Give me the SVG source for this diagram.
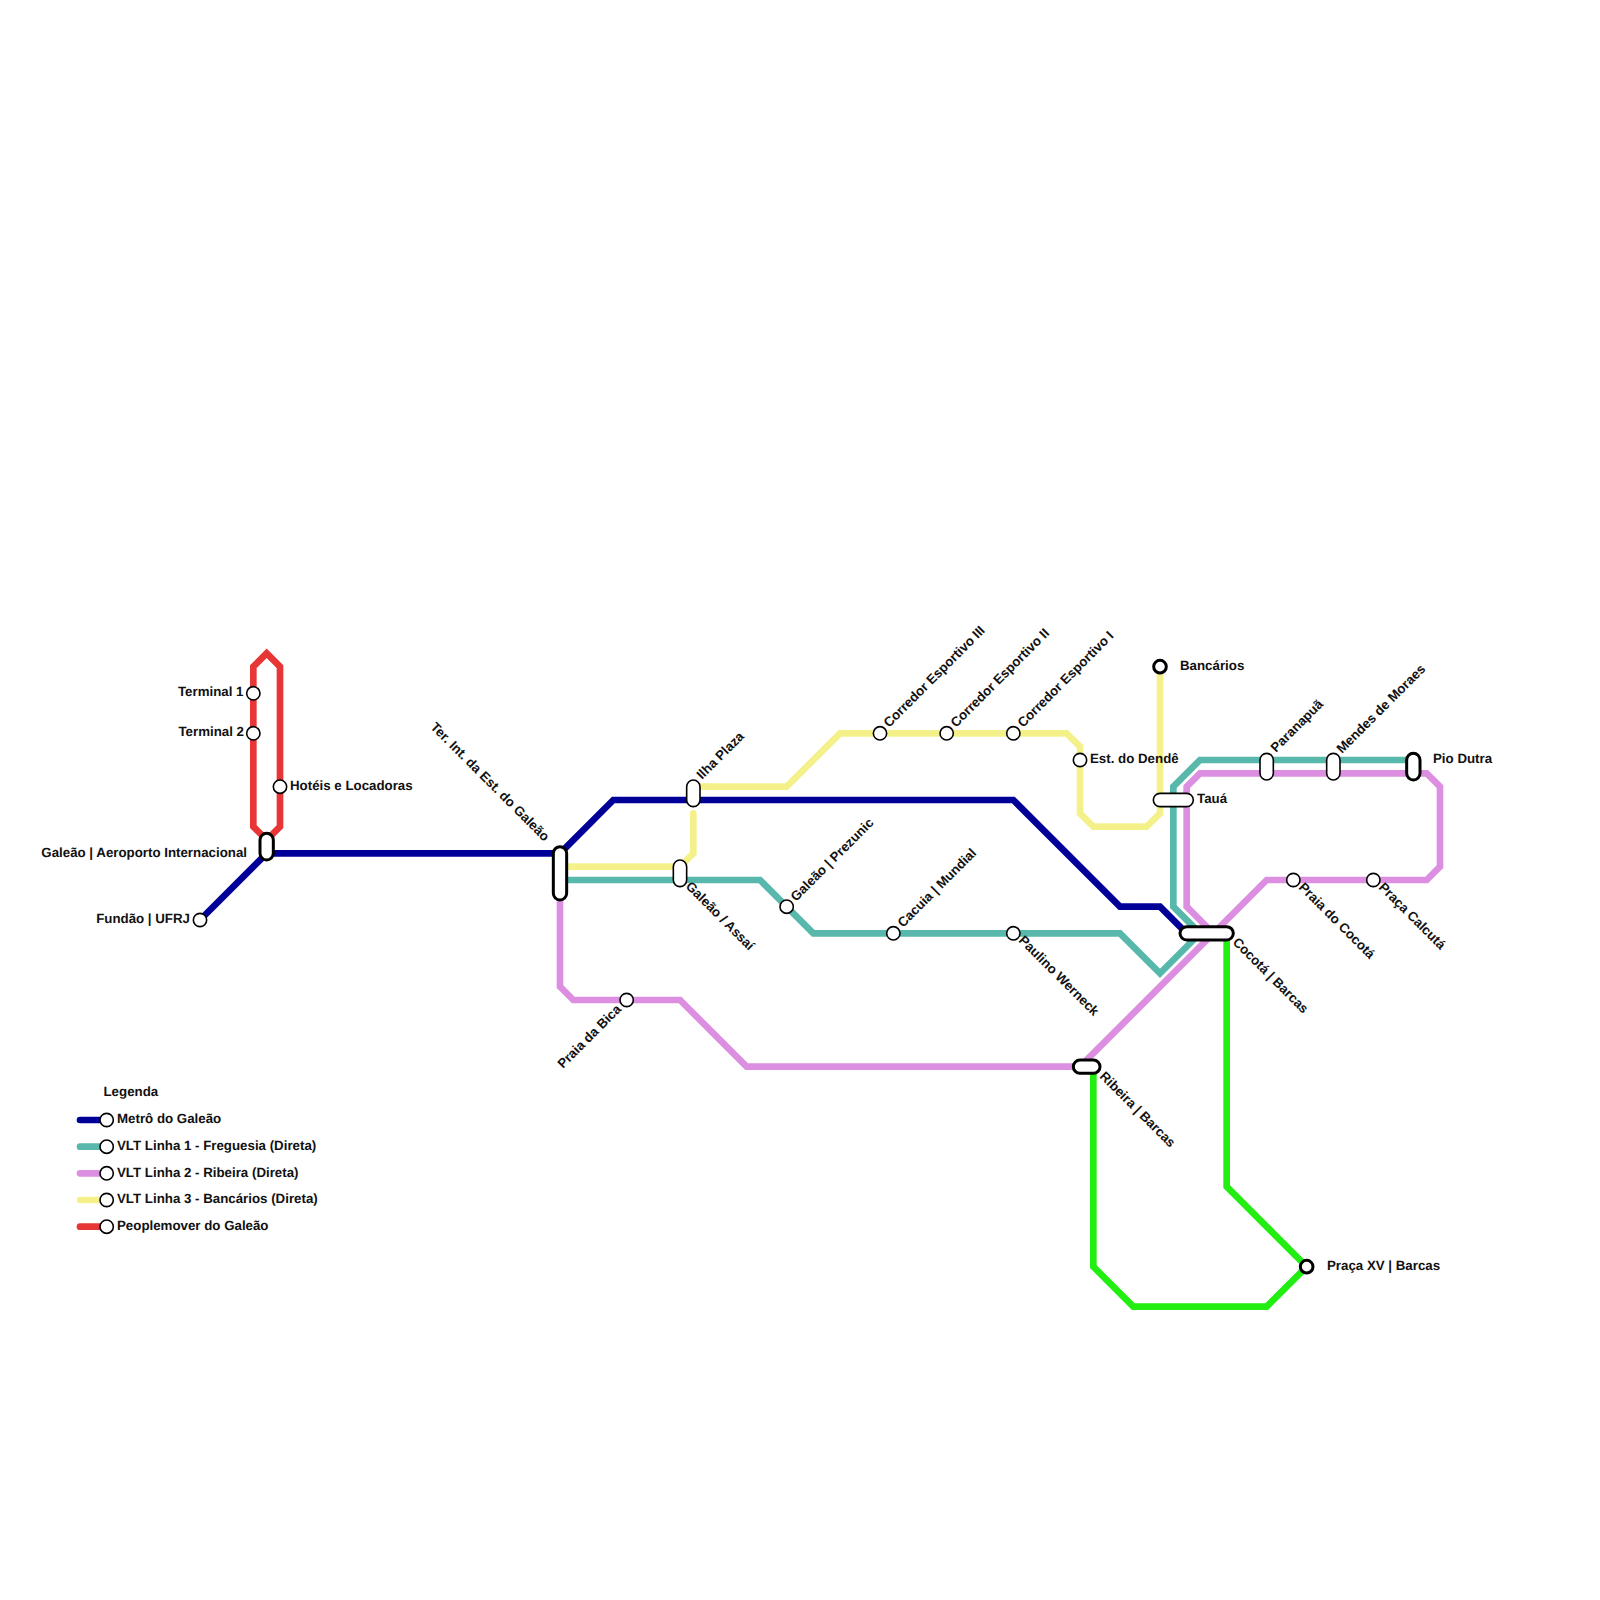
<svg xmlns="http://www.w3.org/2000/svg" width="1600" height="1600" viewBox="0 0 1600 1600">
<style>
text{font-family:"Liberation Sans",Arial,sans-serif;font-weight:700;font-size:13.3px;fill:#111;text-rendering:geometricPrecision}
.l{fill:none;stroke-width:6.67;stroke-linejoin:miter;stroke-linecap:round}
.blue{stroke:#000099}.teal{stroke:#58b8ac}.pink{stroke:#dc8fe0}.yellow{stroke:#f5f18a}.red{stroke:#e83535}.green{stroke:#22ee11}
.s{fill:#fff;stroke:#000;stroke-width:1.6}
.t{fill:#fff;stroke:#000;stroke-width:3}
</style>
<rect width="1600" height="1600" fill="#fff"/>
<g id="connectors" transform="scale(13.3333)">
<g fill="none">
<path class="l red" style="stroke-width:.5" d="M20 63L19 62V50L20 49L21 50V62Z"/>
<path class="l blue" style="stroke-width:.5" d="M15 69L20 64H42L46 60H76L84 68H87L89 70"/>
<path class="l teal" style="stroke-width:.5" d="M42 66H57L61 70H84L87 73L90 70L88 68V59L90 57H106"/>
<path class="l pink" style="stroke-width:.5" d="M42 67V74L43 75H51L56 80H81L95 66H107L108 65V59L107 58H90L89 59V68L91 70"/>
<path class="l yellow" style="stroke-width:.5" d="M42 65H51L52 64V61"/>
<path class="l yellow" style="stroke-width:.5" d="M52 59H59L63 55H80L81 56V61L82 62H86L87 61V50"/>
<path class="l green" style="stroke-width:.5" d="M82 80V95L85 98H95L98 95L92 89V70"/>
</g>
</g>
<g id="n-fundao"><circle class="s" cx="200" cy="920" r="6.67"/><text x="190" y="923" text-anchor="end">Fundão | UFRJ</text></g>
<g id="n-galeao"><rect class="t" x="260" y="833.3" width="13.33" height="26.67" rx="6.67"/><text x="247" y="857" text-anchor="end">Galeão | Aeroporto Internacional</text></g>
<g id="n-t1"><circle class="s" cx="253.33" cy="693.33" r="6.67"/><text x="243.5" y="696" text-anchor="end">Terminal 1</text></g>
<g id="n-t2"><circle class="s" cx="253.33" cy="733.33" r="6.67"/><text x="244" y="736" text-anchor="end">Terminal 2</text></g>
<g id="n-hoteis"><circle class="s" cx="280" cy="786.67" r="6.67"/><text x="290" y="790">Hotéis e Locadoras</text></g>
<g id="n-ter"><rect class="t" x="553.33" y="846.67" width="13.33" height="53.33" rx="6.67"/><text transform="translate(544,842) rotate(45)" text-anchor="end">Ter. Int. da Est. do Galeão</text></g>
<g id="n-ilha"><rect class="s" x="686.67" y="780" width="13.33" height="26.67" rx="6.67"/><text transform="translate(702,780) rotate(-45)">Ilha Plaza</text></g>
<g id="n-assai"><rect class="s" x="673.33" y="860" width="13.33" height="26.67" rx="6.67"/><text transform="translate(685,887) rotate(45)">Galeão / Assaí</text></g>
<g id="n-prezunic"><circle class="s" cx="786.67" cy="906.67" r="6.67"/><text transform="translate(796,902) rotate(-45)">Galeão | Prezunic</text></g>
<g id="n-cacuia"><circle class="s" cx="893.33" cy="933.33" r="6.67"/><text transform="translate(903,928) rotate(-45)">Cacuia | Mundial</text></g>
<g id="n-paulino"><circle class="s" cx="1013.33" cy="933.33" r="6.67"/><text transform="translate(1018,941) rotate(45)">Paulino Werneck</text></g>
<g id="n-bica"><circle class="s" cx="626.67" cy="1000" r="6.67"/><text transform="translate(622,1010) rotate(-45)" text-anchor="end">Praia da Bica</text></g>
<g id="n-c3"><circle class="s" cx="880" cy="733.33" r="6.67"/><text transform="translate(889,728) rotate(-45)">Corredor Esportivo III</text></g>
<g id="n-c2"><circle class="s" cx="946.67" cy="733.33" r="6.67"/><text transform="translate(956,728) rotate(-45)">Corredor Esportivo II</text></g>
<g id="n-c1"><circle class="s" cx="1013.33" cy="733.33" r="6.67"/><text transform="translate(1023,728) rotate(-45)">Corredor Esportivo I</text></g>
<g id="n-dende"><circle class="s" cx="1080" cy="760" r="6.67"/><text x="1090" y="763">Est. do Dendê</text></g>
<g id="n-bancarios"><circle class="t" cx="1160" cy="666.67" r="6.3"/><text x="1180" y="670">Bancários</text></g>
<g id="n-taua"><rect class="s" x="1153.33" y="793.33" width="40" height="13.33" rx="6.67"/><text x="1197" y="803">Tauá</text></g>
<g id="n-parana"><rect class="s" x="1260" y="753.33" width="13.33" height="26.67" rx="6.67"/><text transform="translate(1276,753) rotate(-45)">Paranapuã</text></g>
<g id="n-mendes"><rect class="s" x="1326.67" y="753.33" width="13.33" height="26.67" rx="6.67"/><text transform="translate(1342,754) rotate(-45)">Mendes de Moraes</text></g>
<g id="n-pio"><rect class="t" x="1406.67" y="753.33" width="13.33" height="26.67" rx="6.67"/><text x="1433" y="763">Pio Dutra</text></g>
<g id="n-cocota"><rect class="t" x="1180" y="926.67" width="53.33" height="13.33" rx="6.67"/><text transform="translate(1232,943) rotate(45)">Cocotá | Barcas</text></g>
<g id="n-ribeira"><rect class="t" x="1073.33" y="1060" width="26.67" height="13.33" rx="6.67"/><text transform="translate(1099,1077) rotate(45)">Ribeira | Barcas</text></g>
<g id="n-praia"><circle class="s" cx="1293.33" cy="880" r="6.67"/><text transform="translate(1298,888) rotate(45)">Praia do Cocotá</text></g>
<g id="n-calcuta"><circle class="s" cx="1373.33" cy="880" r="6.67"/><text transform="translate(1378,888) rotate(45)">Praça Calcutá</text></g>
<g id="n-xv"><circle class="t" cx="1306.67" cy="1266.67" r="6.3"/><text x="1327" y="1270">Praça XV | Barcas</text></g>
<g id="legend">
<text x="103.5" y="1096">Legenda</text>
<g id="leg-1"><path class="l blue" d="M80 1120H106"/><circle class="s" cx="106.67" cy="1120" r="6.67"/><text x="117" y="1123">Metrô do Galeão</text></g>
<g id="leg-2"><path class="l teal" d="M80 1146.67H106"/><circle class="s" cx="106.67" cy="1146.67" r="6.67"/><text x="117" y="1150">VLT Linha 1 - Freguesia (Direta)</text></g>
<g id="leg-3"><path class="l pink" d="M80 1173.33H106"/><circle class="s" cx="106.67" cy="1173.33" r="6.67"/><text x="117" y="1176.5">VLT Linha 2 - Ribeira (Direta)</text></g>
<g id="leg-4"><path class="l yellow" d="M80 1200H106"/><circle class="s" cx="106.67" cy="1200" r="6.67"/><text x="117" y="1203">VLT Linha 3 - Bancários (Direta)</text></g>
<g id="leg-5"><path class="l red" d="M80 1226.67H106"/><circle class="s" cx="106.67" cy="1226.67" r="6.67"/><text x="117" y="1230">Peoplemover do Galeão</text></g>
</g>
</svg>
